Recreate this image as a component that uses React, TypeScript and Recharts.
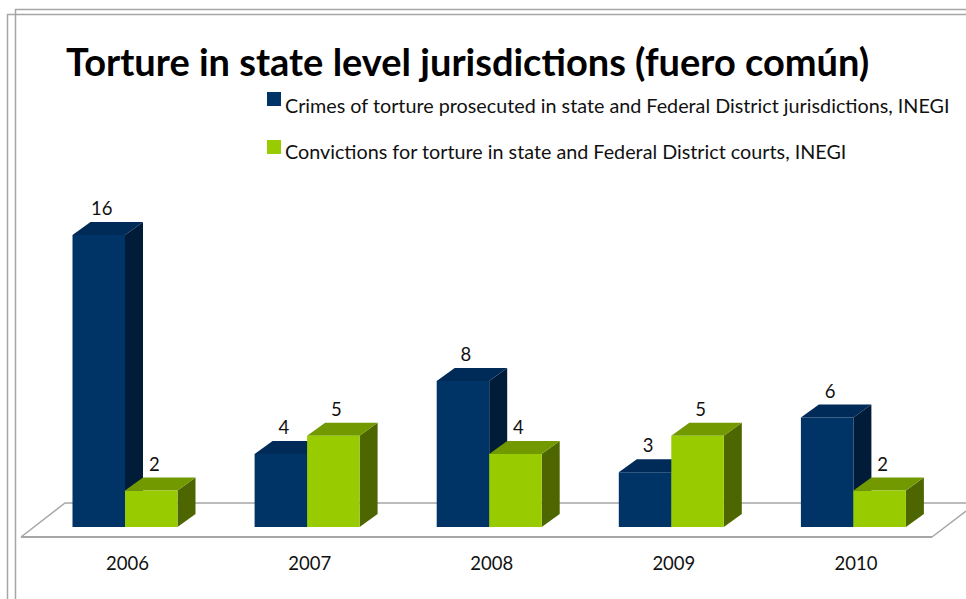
import { BarChart, Bar, XAxis, YAxis, Legend, LabelList } from "recharts";

const years = ["2006", "2007", "2008", "2009", "2010"];
const crimes = [16, 4, 8, 3, 6];
const convictions = [2, 5, 4, 5, 2];
const crimesName = "Crimes of torture prosecuted in state and Federal District jurisdictions, INEGI";
const convictionsName = "Convictions for torture in state and Federal District courts, INEGI";

const rows = years.map((year, i) => ({ year, crimes: crimes[i], convictions: convictions[i] }));

const FONT = "Lato, sans-serif";
const DX = 18;
const DY = 13;

function Box3D({ x, y, width, height, fill, top, side }: any) {
  return (
    <g>
      <polygon points={`${x + width},${y} ${x + width + DX},${y - DY} ${x + width + DX},${y + height - DY} ${x + width},${y + height}`} fill={side} />
      <polygon points={`${x},${y} ${x + DX},${y - DY} ${x + width + DX},${y - DY} ${x + width},${y}`} fill={top} />
      <rect x={x} y={y} width={width} height={height} fill={fill} />
    </g>
  );
}

function ValueLabel({ x, y, width, value }: any) {
  return (
    <text x={x + width / 2 + 3} y={y - 20} textAnchor="middle" fontFamily={FONT} fontSize={18.5} fill="#111">
      {value}
    </text>
  );
}

function LegendBlock({ payload }: any) {
  return (
    <div style={{ fontFamily: FONT, fontSize: 19.75, color: "#111" }}>
      {(payload || []).map((p: any, i: number) => (
        <div key={p.value} style={{ position: "relative", height: 48, whiteSpace: "nowrap" }}>
          <span style={{ position: "absolute", left: 0, top: 0, width: 14, height: 14, background: p.color }} />
          <span style={{ position: "absolute", left: 18, top: i === 0 ? 3 : 1, lineHeight: "22px" }}>{p.value}</span>
        </div>
      ))}
    </div>
  );
}

export default function App() {
  return (
    <div style={{ position: "absolute", left: 0, top: 0, width: 966, height: 599, background: "#fff", overflow: "hidden" }}>
      {/* slide frame and chart floor */}
      <svg width={966} height={599} style={{ position: "absolute", left: 0, top: 0 }}>
        <path d="M7.5 599V14.5H966M15.5 599V9.5H966" fill="none" stroke="#a6a6a6" strokeWidth={1.5} />
        <path d="M21 537L65 503H966M932 537L966 511" fill="none" stroke="#a6a6a6" strokeWidth={1.5} />
        <path d="M21 537H932" fill="none" stroke="#a6a6a6" strokeWidth={2} />
      </svg>
      <div style={{ position: "absolute", left: 66, top: 38, fontFamily: FONT, fontWeight: 700, fontSize: 38, lineHeight: "46px", color: "#000", whiteSpace: "nowrap" }}>
        Torture in state level jurisdictions (fuero común)
      </div>
      <div style={{ position: "absolute", left: 0, top: 0 }}>
        <BarChart width={966} height={599} data={rows} barSize={52.5} barGap={0} margin={{ top: 162, right: 22, bottom: 42, left: 33.5 }}>
          <XAxis dataKey="year" height={30} axisLine={false} tickLine={false} tickMargin={24} dx={3} tick={{ fontFamily: FONT, fontSize: 18.5, fill: "#111" }} />
          <YAxis hide domain={[0, 20]} />
          <Legend
            content={<LegendBlock />}
            layout="vertical"
            align="center"
            verticalAlign="middle"
            itemSorter={null}
            wrapperStyle={{ position: "absolute", left: 267, top: 92, width: 690, bottom: "auto" }}
          />
          <Bar dataKey="crimes" name={crimesName} fill="#003366" isAnimationActive={false} shape={<Box3D top="#002a57" side="#001c38" />}>
            <LabelList dataKey="crimes" content={<ValueLabel />} />
          </Bar>
          <Bar dataKey="convictions" name={convictionsName} fill="#99cc00" isAnimationActive={false} shape={<Box3D top="#739900" side="#4d6600" />}>
            <LabelList dataKey="convictions" content={<ValueLabel />} />
          </Bar>
        </BarChart>
      </div>
    </div>
  );
}
